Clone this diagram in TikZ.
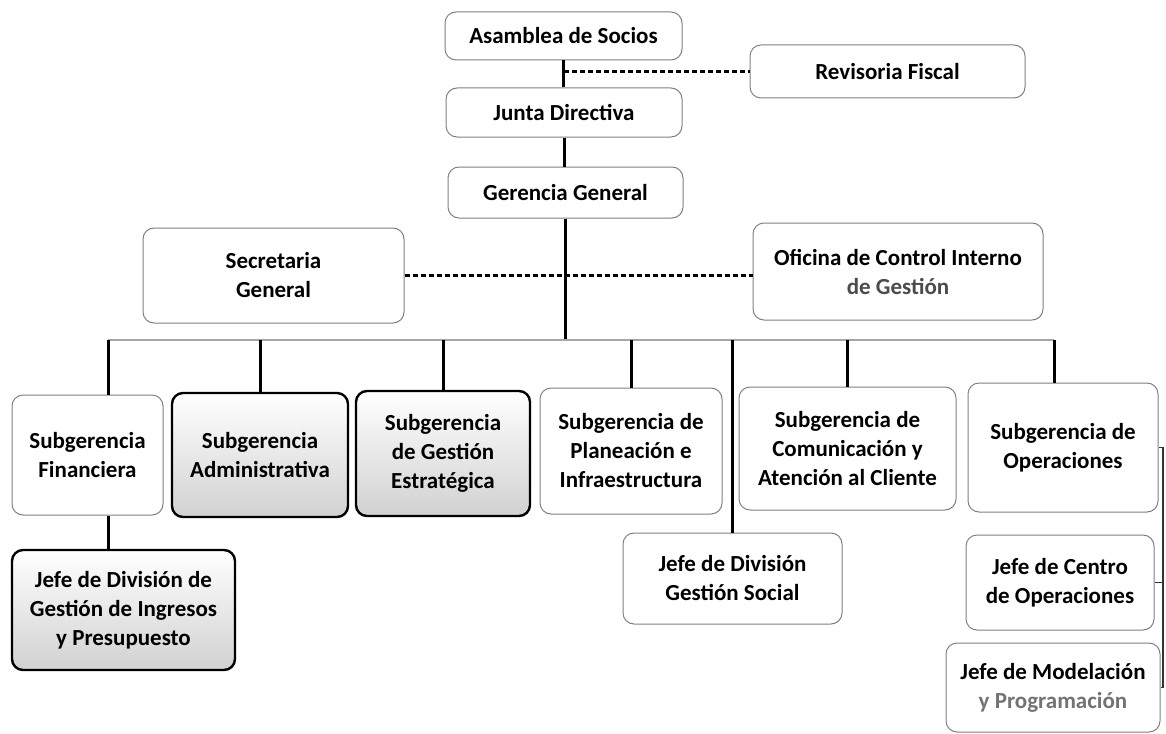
\documentclass[tikz,border=0pt]{standalone}
\usepackage{fontspec}
\setmainfont{Carlito}
\usetikzlibrary{calc}
\begin{document}
\begin{tikzpicture}[x=1pt,y=-1pt,
  box/.style={draw=black!50, line width=1pt, rounded corners=11pt, align=center, inner sep=2pt,
              font=\fontsize{23}{29}\selectfont\bfseries, fill=white},
  hbox/.style={box, draw=black, line width=2.4pt, top color=white, middle color=white, bottom color=black!18},
  conn/.style={line width=3pt, black},
  busline/.style={line width=1.1pt, black!35},
  dconn/.style={line width=3.2pt, black, dash pattern=on 5pt off 3pt},
  bracket/.style={line width=1.3pt, black!80}]
\useasboundingbox (0,0) rectangle (1166,733);

% top chain
\node[box, minimum width=237pt, minimum height=48pt] (asam) at (563.5,36) {Asamblea de Socios};
\node[box, minimum width=236pt, minimum height=49pt] (junta) at (564,112.5) {Junta Directiva};
\node[box, minimum width=235pt, minimum height=51pt] (ger) at (565.5,192.5) {Gerencia General};
\node[box, minimum width=275pt, minimum height=53pt] (rev) at (887.5,71.5) {Revisoria Fiscal};

% staff boxes
\node[box, minimum width=261pt, minimum height=95pt] (sec) at (273.5,275.5) {Secretaria\\General};
\node[box, minimum width=290pt, minimum height=97pt] (ofi) at (898,271.5) {Oficina de Control Interno\\{\color{black!70}de Gestión}};

% subgerencias
\node[box,  minimum width=151pt, minimum height=120pt] (sfin) at (87.5,455) {Subgerencia\\Financiera};
\node[hbox, minimum width=176pt, minimum height=124pt] (sadm) at (260,455) {Subgerencia\\Administrativa};
\node[hbox, minimum width=174pt, minimum height=125pt] (sest) at (443,453.5) {Subgerencia\\de Gestión\\Estratégica};
\node[box,  minimum width=182pt, minimum height=126pt] (spla) at (631,451) {Subgerencia de\\Planeación e\\Infraestructura};
\node[box,  minimum width=217pt, minimum height=123pt] (scom) at (847.5,448.5) {Subgerencia de\\Comunicación y\\Atención al Cliente};
\node[box,  minimum width=190pt, minimum height=129pt] (sope) at (1063,447.5) {Subgerencia de\\Operaciones};

% jefes
\node[hbox, minimum width=223pt, minimum height=120pt] (jing) at (123.5,610) {Jefe de División de\\Gestión de Ingresos\\y Presupuesto};
\node[box, minimum width=219pt, minimum height=91pt] (jsoc) at (732.5,578.5) {Jefe de División\\Gestión Social};
\node[box, minimum width=188pt, minimum height=95pt] (jcen) at (1060,582.5) {Jefe de Centro\\de Operaciones};
\node[box, minimum width=214pt, minimum height=89pt] (jmod) at (1053,687.5) {Jefe de Modelación\\{\color{black!55}y Programación}};

% bus coordinates
\coordinate (busL) at (108,340);
\coordinate (busR) at (1054,340);
\coordinate (busS) at (732,340);
\coordinate (br) at (1163,0);

% connectors
\draw[conn] (asam.south) -- (asam.south |- junta.north);
\draw[dconn] (asam.south |- rev.west) -- (rev.west);
\draw[conn] (junta.south) -- (junta.south |- ger.north);
\draw[conn] (ger.south) -- (ger.south |- busL);
\draw[dconn] (sec.east) -- (sec.east -| ofi.west);
\draw[busline] (busL) -- (busR);
\draw[conn] (busL) -- (busL |- sfin.north);
\draw[conn] (sadm.north |- busL) -- (sadm.north);
\draw[conn] (sest.north |- busL) -- (sest.north);
\draw[conn] (spla.north |- busL) -- (spla.north);
\draw[conn] (busS) -- (busS |- jsoc.north);
\draw[conn] (scom.north |- busL) -- (scom.north);
\draw[conn] (busR) -- (busR |- sope.north);
\draw[conn] (busL |- sfin.south) -- (busL |- jing.north);
\draw[bracket] (sope.east) -- (br |- sope.east) -- (br |- jmod.east) -- (jmod.east);
\draw[bracket] (jcen.east) -- (br |- jcen.east);
\end{tikzpicture}
\end{document}
